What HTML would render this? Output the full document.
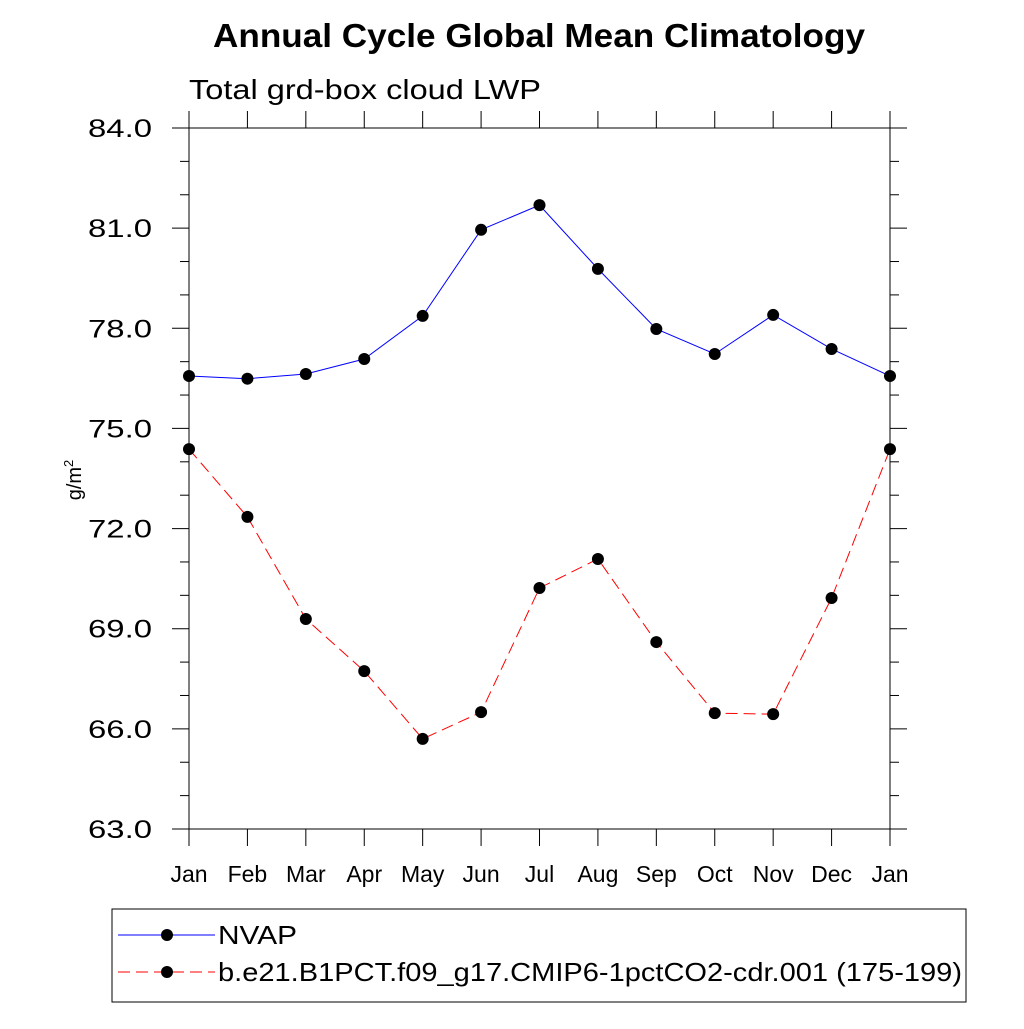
<!DOCTYPE html>
<html><head><meta charset="utf-8"><style>
body{margin:0;background:#fff}
svg text{font-family:"Liberation Sans",sans-serif;fill:#000}
</style></head><body>
<svg width="1024" height="1024" xmlns="http://www.w3.org/2000/svg">
<text x="213" y="47" font-size="33" font-weight="bold" textLength="652" lengthAdjust="spacingAndGlyphs">Annual Cycle Global Mean Climatology</text>
<text x="189" y="99" font-size="28" textLength="352" lengthAdjust="spacingAndGlyphs">Total grd-box cloud LWP</text>
<text transform="translate(81,480) rotate(-90)" text-anchor="middle" font-size="20">g/m<tspan font-size="13" dy="-8">2</tspan></text>
<g id="axes"></g>
<g id="series"></g>
<rect x="112" y="909" width="854" height="93" fill="none" stroke="#000" stroke-width="1"/>
<line x1="118" y1="935" x2="215" y2="935" stroke="#00f" stroke-width="1"/>
<circle cx="167" cy="935" r="6" fill="#000"/>
<text x="218" y="944" font-size="26" textLength="79" lengthAdjust="spacingAndGlyphs">NVAP</text>
<line x1="118" y1="972" x2="215" y2="972" stroke="#f00" stroke-width="1" stroke-dasharray="12,6"/>
<circle cx="167" cy="972" r="6" fill="#000"/>
<text x="218" y="981" font-size="26" textLength="744" lengthAdjust="spacingAndGlyphs">b.e21.B1PCT.f09_g17.CMIP6-1pctCO2-cdr.001 (175-199)</text>
</svg>
<script>
const months=["Jan","Feb","Mar","Apr","May","Jun","Jul","Aug","Sep","Oct","Nov","Dec","Jan"];
const nvap=[76.57,76.49,76.63,77.08,78.37,80.95,81.69,79.78,77.98,77.23,78.40,77.38,76.57];
const model=[74.38,72.35,69.29,67.73,65.70,66.50,70.22,71.09,68.60,66.47,66.44,69.92,74.38];
const yTicks=["63.0","66.0","69.0","72.0","75.0","78.0","81.0","84.0"];
const X0=189,X1=890,Y0=829,Y1=128,YMIN=63,YMAX=84;
const NS="http://www.w3.org/2000/svg";
function xs(i){return X0+(X1-X0)*i/(months.length-1);}
function ys(v){return Y0-(v-YMIN)/(YMAX-YMIN)*(Y0-Y1);}
function mk(t,a,p){const e=document.createElementNS(NS,t);for(const k in a)e.setAttribute(k,a[k]);p.appendChild(e);return e;}
const ax=document.getElementById('axes');
const fr=mk('rect',{x:X0,y:Y1,width:X1-X0,height:Y0-Y1,fill:'none',stroke:'#000','stroke-width':1},ax);


for(let v=YMIN;v<=YMAX;v+=1){
  const major=(v-YMIN)%3===0,len=major?17:9,y=ys(v);
  mk('line',{x1:X0-len,y1:y,x2:X0,y2:y,stroke:'#000'},ax);
  mk('line',{x1:X1,y1:y,x2:X1+len,y2:y,stroke:'#000'},ax);
}
yTicks.forEach(s=>{
  const t=mk('text',{x:88,y:ys(parseFloat(s))+9,'font-size':25,textLength:64,lengthAdjust:'spacingAndGlyphs'},ax);
  t.textContent=s;
  
  
});
months.forEach((m,i)=>{
  const x=xs(i);
  mk('line',{x1:x,y1:Y0,x2:x,y2:Y0+17,stroke:'#000'},ax);
  mk('line',{x1:x,y1:Y1,x2:x,y2:Y1-17,stroke:'#000'},ax);
  const t=mk('text',{x:x,y:882,'text-anchor':'middle','font-size':23},ax);
  t.textContent=m;
  
  
});
const sg=document.getElementById('series');
function draw(arr,color,dash,name){
  const pl=mk('polyline',{points:arr.map((v,i)=>xs(i)+','+ys(v)).join(' '),fill:'none',stroke:color,'stroke-width':1,'stroke-dasharray':dash},sg);
  
  
  arr.forEach((v,i)=>{
    const c=mk('circle',{cx:xs(i),cy:ys(v),r:6,fill:'#000'},sg);
    
    
  });
}
draw(nvap,'#00f','none','nvap');
draw(model,'#f00','12,6','model');
</script>
</body></html>
